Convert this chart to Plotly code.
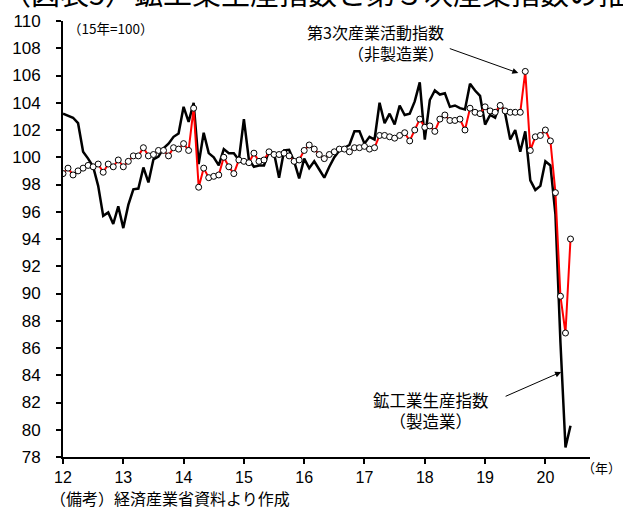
import plotly.graph_objects as go

# Monthly index values, Jan 2012 - Jun 2020 (2015 = 100, seasonally adjusted)
years = list(range(2012, 2021))
year_labels = [str(y % 100) for y in years]

ita_nonmfg = [  # 第3次産業活動指数
    98.8, 99.2, 98.7, 99.0, 99.2, 99.4, 99.3, 99.5, 98.9, 99.5, 99.3, 99.8,
    99.3, 99.7, 100.1, 100.1, 100.7, 100.1, 100.2, 100.5, 100.5, 100.1, 100.7, 100.6,
    101.0, 100.5, 103.6, 97.8, 99.2, 98.5, 98.6, 98.7, 100.0, 99.3, 98.8, 99.8,
    99.7, 99.6, 100.3, 99.7, 99.8, 100.4, 100.2, 100.2, 100.3, 100.1, 99.7, 99.8,
    100.5, 100.9, 100.6, 100.2, 99.9, 100.2, 100.4, 100.6, 100.6, 100.4, 100.7, 100.7,
    100.8, 100.6, 100.7, 101.6, 101.6, 101.5, 101.4, 101.6, 101.8, 101.2, 102.0, 102.8,
    102.2, 102.3, 101.9, 102.8, 103.1, 102.7, 102.7, 102.8, 102.0, 103.6, 103.3, 103.2,
    103.7, 103.4, 103.3, 103.8, 103.4, 103.3, 103.3, 103.3, 106.3, 100.5, 101.5, 101.6,
    102.0, 101.2, 97.4, 89.8, 87.1, 94.0,
]

iip_mfg = [  # 鉱工業生産指数
    103.2, 103.05, 102.9, 102.5, 100.4, 99.9, 99.3, 97.9, 95.7, 95.95, 95.1, 96.4,
    94.8, 96.5, 97.65, 97.7, 99.25, 98.15, 99.85, 100.05, 100.65, 101.0, 101.5, 101.75,
    103.7, 102.6, 104.0, 99.5, 101.8, 100.3, 100.0, 99.4, 100.6, 100.3, 100.3, 99.8,
    102.8, 99.8, 99.3, 99.4, 99.4, 100.45, 100.3, 98.5, 100.5, 100.55, 99.7, 98.45,
    99.9, 99.2, 99.7, 99.1, 98.5, 99.3, 100.0, 100.5, 100.7, 100.9, 101.9, 101.9,
    101.0, 101.5, 101.3, 104.0, 102.5, 103.2, 102.4, 103.8, 103.1, 103.2, 104.1, 105.5,
    101.3, 104.2, 104.9, 104.6, 104.7, 103.7, 103.8, 103.6, 103.5, 105.4, 104.9, 104.5,
    102.4, 103.1, 102.9, 104.0, 103.2, 101.3, 102.0, 100.4, 101.9, 98.3, 97.6, 97.9,
    99.7, 99.4, 95.8, 86.4, 78.7, 80.3,
]

t = [2012 + i / 12 for i in range(len(ita_nonmfg))]

JP = "Noto Sans CJK JP"
NUM = "Liberation Sans Narrow, Liberation Sans, Arial, sans-serif"

# layout geometry (pixels)
W, H = 623, 509
ML, MR, MT, MB = 60, 33, 21, 52
PW, PH = W - ML - MR, H - MT - MB


def px(x):
    return (x - ML) / PW


def py(y):
    return (H - MB - y) / PH


fig = go.Figure()
fig.add_trace(go.Scatter(
    x=t, y=iip_mfg, mode="lines",
    line=dict(color="black", width=2.5),
    hoverinfo="skip",
))
fig.add_trace(go.Scatter(
    x=t, y=ita_nonmfg, mode="lines+markers",
    line=dict(color="#ff0000", width=2),
    marker=dict(size=6, color="white", line=dict(color="black", width=1)),
    hoverinfo="skip",
))

axis_common = dict(
    showline=True, linecolor="black", linewidth=2,
    ticks="outside", ticklen=5, tickwidth=1.5, tickcolor="black",
    showgrid=False, zeroline=False,
)

fig.update_layout(
    width=W, height=H,
    margin=dict(l=ML, r=MR, t=MT, b=MB),
    paper_bgcolor="white", plot_bgcolor="white",
    showlegend=False,
    xaxis=dict(range=[2012, 2020.74], tickmode="array", tickvals=years,
               ticktext=year_labels, ticklabelstandoff=0,
               tickfont=dict(family=NUM, size=16, color="black"), **axis_common),
    yaxis=dict(range=[78, 110], tickmode="linear", tick0=78, dtick=2,
               ticklabelstandoff=12,
               tickfont=dict(family=NUM, size=17, color="black"), **axis_common),
)


def label(x, y, text, size, anchor="center", align="center"):
    return dict(xref="paper", yref="paper", x=px(x), y=py(y),
                xanchor=anchor, yanchor="middle", showarrow=False, align=align,
                text=text, font=dict(family=JP, size=size, color="black"))


ann = [
    # title (runs off the top and right edges)
    label(-3, -8, "（図表5）鉱工業生産指数と第３次産業指数の推移", 29, "left"),
    label(63, 28, "（15年=100）", 13.5, "left"),
    label(445, 42, "第3次産業活動指数<br>（非製造業）", 16, "right", "right"),
    label(430, 410, "鉱工業生産指数<br>（製造業）", 16.5),
    label(623, 468, "（年）", 13, "right"),
    label(45, 498, "（備考）経済産業省資料より作成", 16, "left"),
]

# arrows pointing at the series
ann.append(dict(x=2019.551, y=106.18, xref="x", yref="y",
                ax=-70, ay=-25, axref="pixel", ayref="pixel",
                text="", showarrow=True, arrowhead=2, arrowsize=1.2,
                arrowwidth=1, arrowcolor="black", standoff=0))
ann.append(dict(x=2020.261, y=84.24, xref="x", yref="y",
                ax=-57, ay=25, axref="pixel", ayref="pixel",
                text="", showarrow=True, arrowhead=2, arrowsize=1.2,
                arrowwidth=1, arrowcolor="black", standoff=0))

fig.update_layout(annotations=ann)

fig.write_html("out.html")
